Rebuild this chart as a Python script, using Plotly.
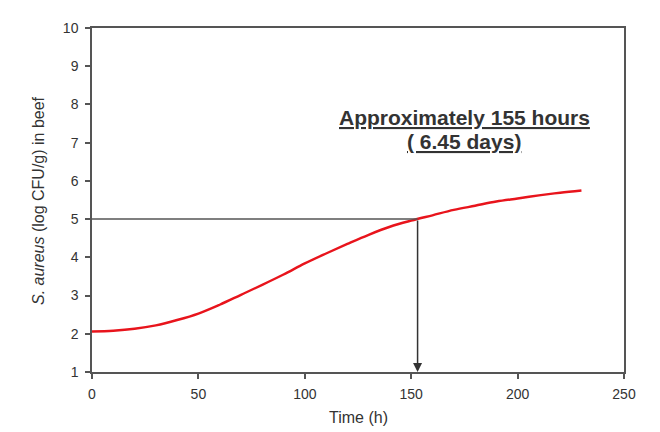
import plotly.graph_objects as go

time_h = [0, 10, 20, 30, 40, 50, 60, 70, 80, 90, 100, 110, 120, 130, 140, 150,
          160, 170, 180, 190, 200, 210, 220, 230]
log_cfu = [2.06, 2.08, 2.13, 2.22, 2.36, 2.53, 2.76, 3.02, 3.28, 3.55, 3.84, 4.10,
           4.35, 4.59, 4.80, 4.96, 5.10, 5.24, 5.35, 5.46, 5.54, 5.62, 5.69, 5.75]
target_time = 153
target_log = 5
x_ticks = [0, 50, 100, 150, 200, 250]
y_ticks = [1, 2, 3, 4, 5, 6, 7, 8, 9, 10]
note_line1 = "Approximately 155 hours"
note_line2 = "( 6.45 days)"

axis_color = "#555555"
font_family = "Liberation Sans, Arial, sans-serif"

fig = go.Figure()
fig.add_trace(go.Scatter(x=time_h, y=log_cfu, mode="lines",
                         line=dict(color="#e8141c", width=2.4, shape="spline", smoothing=1.0),
                         showlegend=False, hoverinfo="skip"))
fig.add_trace(go.Scatter(x=[0, target_time], y=[target_log, target_log], mode="lines",
                         line=dict(color=axis_color, width=1.5),
                         showlegend=False, hoverinfo="skip"))

fig.add_annotation(x=target_time, y=1, ax=target_time, ay=target_log,
                   xref="x", yref="y", axref="x", ayref="y",
                   showarrow=True, arrowhead=2, arrowsize=1.2, arrowwidth=1.5,
                   arrowcolor="#333333", standoff=0, text="")

fig.add_annotation(x=175, y=7.65, xref="x", yref="y",
                   text="<b><u>" + note_line1 + "</u></b>",
                   showarrow=False, font=dict(family=font_family, size=21, color="#333333"))
fig.add_annotation(x=175, y=7.04, xref="x", yref="y",
                   text="<b><u>" + note_line2 + "</u></b>",
                   showarrow=False, font=dict(family=font_family, size=21, color="#333333"))

# axis titles
fig.add_annotation(x=-0.1015, y=0.497, xref="paper", yref="paper",
                   text="<i>S. aureus</i> (log CFU/g) in beef", textangle=-90,
                   showarrow=False, xanchor="center", yanchor="middle",
                   font=dict(family=font_family, size=16, color="#333333"))
fig.add_annotation(x=0.5, y=-0.133, xref="paper", yref="paper",
                   text="Time (h)", showarrow=False, xanchor="center", yanchor="middle",
                   font=dict(family=font_family, size=16, color="#333333"))

tick_font = dict(family=font_family, size=14, color="#333333")

fig.update_layout(
    width=660, height=432,
    margin=dict(l=92, r=36, t=28, b=60),
    paper_bgcolor="white", plot_bgcolor="white",
    font=dict(family=font_family, size=14, color="#333333"),
    xaxis=dict(range=[0, 250], tickvals=x_ticks, showgrid=False, zeroline=False,
               showline=True, linecolor=axis_color, linewidth=1.5, mirror=True,
               ticks="outside", ticklen=5, tickcolor=axis_color, tickwidth=1.5,
               ticklabelstandoff=3, tickfont=tick_font),
    yaxis=dict(range=[1, 10], tickvals=y_ticks, showgrid=False, zeroline=False,
               showline=True, linecolor=axis_color, linewidth=1.5, mirror=True,
               ticks="outside", ticklen=5, tickcolor=axis_color, tickwidth=1.5,
               ticklabelstandoff=4, tickfont=tick_font),
)

fig.write_html("out.html")
